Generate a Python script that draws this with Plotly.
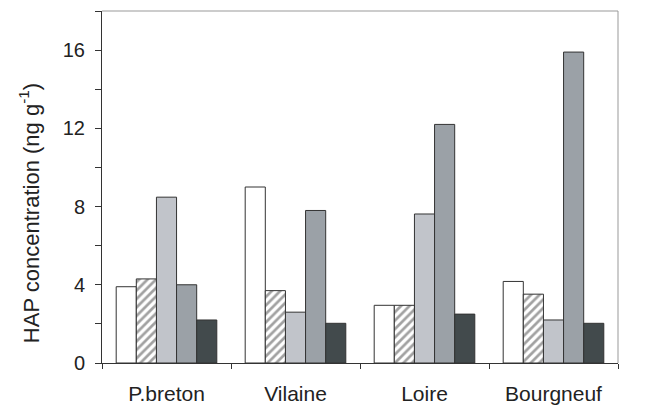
import plotly.graph_objects as go

categories = ["P.breton", "Vilaine", "Loire", "Bourgneuf"]
s1 = [3.9, 9.0, 2.95, 4.17]
s2 = [4.3, 3.7, 2.95, 3.52]
s3 = [8.48, 2.6, 7.62, 2.2]
s4 = [4.0, 7.8, 12.2, 15.9]
s5 = [2.2, 2.03, 2.5, 2.03]

line = dict(color="#333333", width=1)
fig = go.Figure()
fig.add_bar(x=categories, y=s1, marker=dict(color="white", line=line), name="1")
fig.add_bar(x=categories, y=s2, marker=dict(color="white", line=line,
            pattern=dict(shape="/", fgcolor="#444444", bgcolor="white", size=6, solidity=0.45)), name="2")
fig.add_bar(x=categories, y=s3, marker=dict(color="#c1c4ca", line=line), name="3")
fig.add_bar(x=categories, y=s4, marker=dict(color="#9ba1a7", line=line), name="4")
fig.add_bar(x=categories, y=s5, marker=dict(color="#424a4c", line=line), name="5")

fig.update_layout(
    width=652, height=399,
    margin=dict(l=94, r=42, t=3, b=44),
    paper_bgcolor="white", plot_bgcolor="white",
    barmode="group", bargap=0.22, bargroupgap=0,
    showlegend=False,
    font=dict(family="Liberation Sans, Arial, sans-serif", color="#222222"),
    xaxis=dict(showline=True, linecolor="#333333", linewidth=1, ticks="outside",
               tickson="boundaries", ticklen=5, tickcolor="#333333",
               tickfont=dict(size=21), showgrid=False, ticklabelstandoff=12),
    yaxis=dict(range=[0, 18], tickvals=[0, 4, 8, 12, 16], showline=True,
               linecolor="#333333", linewidth=1, ticks="outside", ticklen=6,
               tickcolor="#333333", tickfont=dict(size=20), showgrid=False,
               ticklabelstandoff=6,
               zeroline=False, minor=dict(tickvals=[2, 6, 10, 14, 18], ticks="outside",
                                          ticklen=6, tickcolor="#333333")),
    annotations=[dict(text="HAP concentration (ng g<sup>-1</sup>)", textangle=-90,
                      xref="paper", yref="paper", x=-0.14, y=0.425,
                      xanchor="center", yanchor="middle", showarrow=False,
                      font=dict(size=22, color="#222222"))],
    shapes=[
        dict(type="line", xref="paper", yref="paper", x0=0, x1=1, y0=1, y1=1,
             line=dict(color="#999999", width=1)),
        dict(type="line", xref="paper", yref="paper", x0=1, x1=1, y0=0, y1=1,
             line=dict(color="#999999", width=1)),
    ],
)
fig.write_html("out.html")
